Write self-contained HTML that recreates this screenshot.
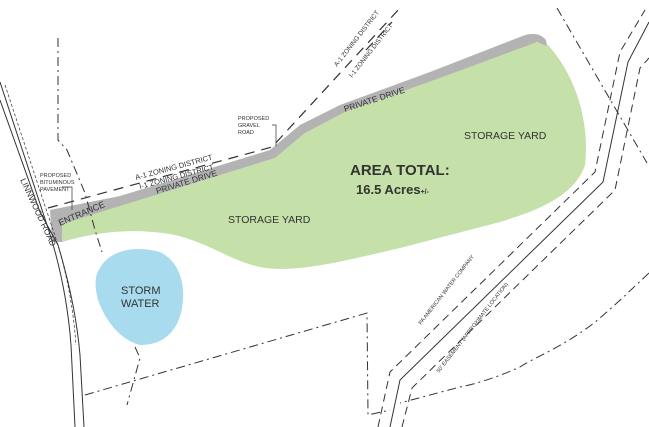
<!DOCTYPE html>
<html><head><style>
html,body{margin:0;padding:0;background:#fff;width:649px;height:427px;overflow:hidden}
svg{display:block}
text{font-family:"Liberation Sans",sans-serif;fill:#333}
</style></head><body>
<svg width="649" height="427" viewBox="0 0 649 427" xmlns="http://www.w3.org/2000/svg">
<path d="M60,222 L120,206 L275,158 L305,133 L345,112 L440,78 L535,42 L548,45 C575,75 590,120 585,165 C575,195 540,210 500,222 L400,248 C340,262 300,272 265,268 C230,262 210,242 170,234 C130,228 95,232 62,242 Z" fill="#c5e0a8"/>
<path d="M50,210 L120,196 L270,150 L300,125 L340,105 L430,72 L520,37 C532,32 540,33 546,40 L547,46 L537,42 L440,78 L345,112 L305,133 L275,158 L120,206 L62,224 L62,242 L52,242 Z" fill="#b3b3b3"/>
<path d="M100,268 C110,250 135,245 160,252 C180,262 186,285 182,308 C178,330 165,345 140,345 C120,340 105,320 98,300 C94,285 95,275 100,268 Z" fill="#a9dbef"/>
<g fill="none" stroke="#333" stroke-width="1">
<path d="M0,82 L48,228 C60,265 68,305 71,345 L75,427"/>
<path d="M0,100 L40,212 L58,245 C70,285 77,320 80,355 L84,427"/>
<path d="M5,85 L53,230 C66,268 73,305 76,345" stroke-dasharray="3,2" stroke-width="0.7"/>
<path d="M390,427 L400,380 L603,182 L628,62 L649,22"/>
<path d="M378,427 L390,372 L595,172 L620,52 L645,10" stroke-dasharray="8,5"/>
<path d="M402,427 L412,388 L615,190 L640,68 L649,58" stroke-dasharray="8,5"/>
</g>
<g fill="none" stroke="#333" stroke-width="1" stroke-dasharray="9,4,2,4">
<path d="M557,8 L647,163"/>
<path d="M649,273 C620,300 600,320 580,333 C555,350 530,360 520,367 C500,376 480,383 460,387 L400,403"/>
<path d="M85,395 L367,313 L368,415 L390,410"/>
<path d="M58,38 L58,140 L67,150 L85,193 L95,230 L102,252"/>
<path d="M135,347 L140,358 L127,405"/>
</g>
<g fill="none" stroke="#333" stroke-width="1.2" stroke-dasharray="10,7">
<path d="M48,208 L272,147 L400,8"/>
<path d="M366,50 L392,22"/>
</g>
<path d="M272,125 L276,125 L276,146" fill="none" stroke="#333" stroke-width="0.7"/>
<path d="M62,187 L72,187 L72,210" fill="none" stroke="#333" stroke-width="0.7"/>
<text x="464" y="139" font-size="10.5">STORAGE YARD</text>
<text x="228" y="223" font-size="10.5">STORAGE YARD</text>
<text x="350" y="175" font-size="15" font-weight="bold" fill="#222">AREA TOTAL:</text>
<text x="356" y="194" font-size="13" font-weight="bold" fill="#222">16.5 Acres<tspan font-size="7">+/-</tspan></text>
<text x="121" y="294" font-size="11" fill="#222">STORM</text>
<text x="121" y="307" font-size="11" fill="#222">WATER</text>
<text x="40" y="177" font-size="5.5">PROPOSED</text>
<text x="40" y="184" font-size="5.5">BITUMINOUS</text>
<text x="40" y="191" font-size="5.5">PAVEMENT</text>
<text x="238" y="120" font-size="5.5">PROPOSED</text>
<text x="238" y="127" font-size="5.5">GRAVEL</text>
<text x="238" y="134" font-size="5.5">ROAD</text>
<text transform="translate(60,226) rotate(-23)" font-size="9">ENTRANCE</text>
<text transform="translate(157,194) rotate(-17)" font-size="8.5">PRIVATE DRIVE</text>
<text transform="translate(345,112) rotate(-18)" font-size="8.5">PRIVATE DRIVE</text>
<text transform="translate(136,180) rotate(-15)" font-size="7.5">A-1 ZONING DISTRICT</text>
<text transform="translate(140,189) rotate(-15)" font-size="7.5">I-1 ZONING DISTRICT</text>
<text transform="translate(337,67) rotate(-52)" font-size="6.5">A-1 ZONING DISTRICT</text>
<text transform="translate(352,78) rotate(-52)" font-size="6.5">I-1 ZONING DISTRICT</text>
<text transform="translate(20,180) rotate(65)" font-size="8.5">LINNWOOD ROAD</text>
<text transform="translate(421,325) rotate(-52)" font-size="5.5">PA AMERICAN WATER COMPANY</text>
<text transform="translate(439,373) rotate(-52)" font-size="5.5">50' EASEMENT (APPROXIMATE LOCATION)</text>
</svg>
</body></html>
